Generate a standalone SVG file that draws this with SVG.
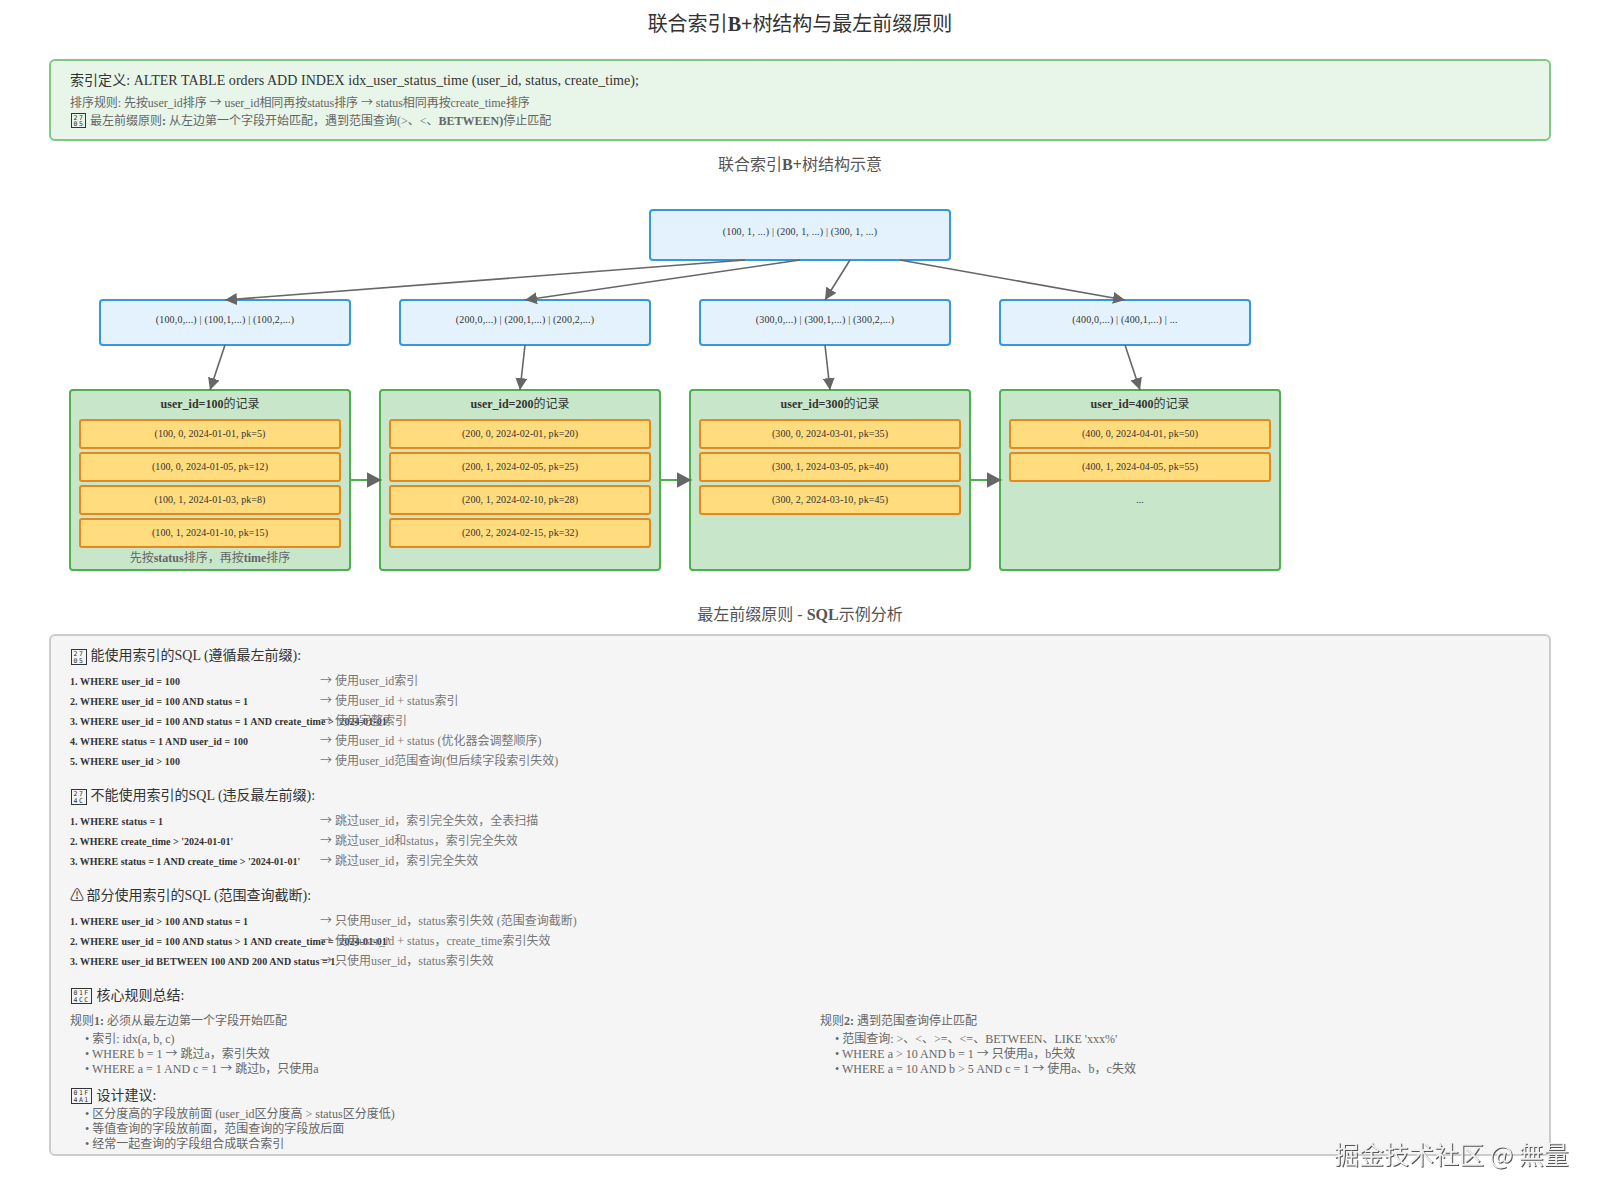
<svg xmlns="http://www.w3.org/2000/svg" width="1600" height="1200" viewBox="0 0 1600 1200">
<style>
text{font-family:"Liberation Serif","Noto Sans CJK SC",serif;fill:#333}
.b{font-weight:700}
.c{text-anchor:middle}
.t{font-size:20px}
.s{font-size:16px;fill:#555}
.h{font-size:14px}
.g{font-size:12px;fill:#666}
.n{font-size:10px;letter-spacing:.18px}
.m{font-size:10px;letter-spacing:.08px}
.r{font-size:10px;font-weight:700;letter-spacing:.09px}
.r0{letter-spacing:0}
.d{font-size:12px;fill:#777}
.ct{font-size:12px}
.ar{font-family:"Noto Sans CJK SC",sans-serif}
.idx{fill:#e3f2fd;stroke:#3498db;stroke-width:2}
.box{fill:#c8e6c9;stroke:#4caf50;stroke-width:2}
.rec{fill:#ffdc7d;stroke:#e6891c;stroke-width:2}
.e{stroke:#666;stroke-width:1.6;fill:none;marker-end:url(#a)}
.l{stroke:#4caf50;stroke-width:2;fill:none;marker-end:url(#a2)}
.wm{font-family:"Noto Sans CJK SC","Liberation Sans",sans-serif;font-size:25px;fill:#f0f0f0;filter:drop-shadow(1px 1px 0 #555)}
.tf{fill:none;stroke:#333;stroke-width:1}
.hx{font-family:"DejaVu Sans Mono","Liberation Mono",monospace;font-size:6.5px;letter-spacing:1.5px;fill:#333}
</style>
<defs>
<marker id="a" markerUnits="userSpaceOnUse" markerWidth="12" markerHeight="12" refX="12" refY="6" orient="auto"><path d="M0 0L12 6L0 12Z" fill="#666"/></marker>
<marker id="a2" markerUnits="userSpaceOnUse" markerWidth="16" markerHeight="16" refX="15" refY="8" orient="auto"><path d="M0 0L15 8L0 16Z" fill="#666"/></marker>
</defs>
<rect width="1600" height="1200" fill="#fff"/>
<text class="t c" x="800" y="31">联合索引<tspan class="b">B+</tspan>树结构与最左前缀原则</text>

<g id="info">
<rect x="50" y="60" width="1500" height="80" rx="5" fill="#e8f5e9" stroke="#81c784" stroke-width="2"/>
<text class="h" x="70" y="85" letter-spacing=".05">索引定义: ALTER TABLE orders ADD INDEX idx_user_status_time (user_id, status, create_time);</text>
<text class="g" x="70" y="107" letter-spacing="-.06">排序规则: 先按user_id排序 <tspan class="ar">→</tspan> user_id相同再按status排序 <tspan class="ar">→</tspan> status相同再按create_time排序</text>
<rect class="tf" x="71.5" y="113.5" width="14" height="14"/>
<text class="hx" x="73.5" y="119.5">27</text><text class="hx" x="73.5" y="126">05</text>
<text class="g" x="90" y="125">最左前缀原则<tspan class="b">:</tspan> 从左边第一个字段开始匹配，遇到范围查询(&gt;、&lt;、<tspan class="b">BETWEEN)</tspan>停止匹配</text>
</g>
<text class="s c" x="800" y="170">联合索引<tspan class="b">B+</tspan>树结构示意</text>

<g id="root"><rect class="idx" x="650" y="210" width="300" height="50" rx="3"/><text class="n c" x="800" y="235">(100, 1, ...) | (200, 1, ...) | (300, 1, ...)</text></g>
<g id="mid1"><rect class="idx" x="100" y="300" width="250" height="45" rx="3"/><text class="n c" x="225" y="323">(100,0,...) | (100,1,...) | (100,2,...)</text></g>
<g id="mid2"><rect class="idx" x="400" y="300" width="250" height="45" rx="3"/><text class="n c" x="525" y="323">(200,0,...) | (200,1,...) | (200,2,...)</text></g>
<g id="mid3"><rect class="idx" x="700" y="300" width="250" height="45" rx="3"/><text class="n c" x="825" y="323">(300,0,...) | (300,1,...) | (300,2,...)</text></g>
<g id="mid4"><rect class="idx" x="1000" y="300" width="250" height="45" rx="3"/><text class="n c" x="1125" y="323">(400,0,...) | (400,1,...) | ...</text></g>

<g id="leaf1"><rect class="box" x="70" y="390" width="280" height="180" rx="3"/>
<text class="ct c" x="210" y="408"><tspan class="b">user_id=100</tspan>的记录</text>
<rect class="rec" x="80" y="420" width="260" height="28" rx="2"/><text class="m c" x="210" y="437">(100, 0, 2024-01-01, pk=5)</text>
<rect class="rec" x="80" y="453" width="260" height="28" rx="2"/><text class="m c" x="210" y="470">(100, 0, 2024-01-05, pk=12)</text>
<rect class="rec" x="80" y="486" width="260" height="28" rx="2"/><text class="m c" x="210" y="503">(100, 1, 2024-01-03, pk=8)</text>
<rect class="rec" x="80" y="519" width="260" height="28" rx="2"/><text class="m c" x="210" y="536">(100, 1, 2024-01-10, pk=15)</text>
<text class="g c" x="210" y="562">先按<tspan class="b">status</tspan>排序，再按<tspan class="b">time</tspan>排序</text></g>
<g id="leaf2"><rect class="box" x="380" y="390" width="280" height="180" rx="3"/>
<text class="ct c" x="520" y="408"><tspan class="b">user_id=200</tspan>的记录</text>
<rect class="rec" x="390" y="420" width="260" height="28" rx="2"/><text class="m c" x="520" y="437">(200, 0, 2024-02-01, pk=20)</text>
<rect class="rec" x="390" y="453" width="260" height="28" rx="2"/><text class="m c" x="520" y="470">(200, 1, 2024-02-05, pk=25)</text>
<rect class="rec" x="390" y="486" width="260" height="28" rx="2"/><text class="m c" x="520" y="503">(200, 1, 2024-02-10, pk=28)</text>
<rect class="rec" x="390" y="519" width="260" height="28" rx="2"/><text class="m c" x="520" y="536">(200, 2, 2024-02-15, pk=32)</text></g>
<g id="leaf3"><rect class="box" x="690" y="390" width="280" height="180" rx="3"/>
<text class="ct c" x="830" y="408"><tspan class="b">user_id=300</tspan>的记录</text>
<rect class="rec" x="700" y="420" width="260" height="28" rx="2"/><text class="m c" x="830" y="437">(300, 0, 2024-03-01, pk=35)</text>
<rect class="rec" x="700" y="453" width="260" height="28" rx="2"/><text class="m c" x="830" y="470">(300, 1, 2024-03-05, pk=40)</text>
<rect class="rec" x="700" y="486" width="260" height="28" rx="2"/><text class="m c" x="830" y="503">(300, 2, 2024-03-10, pk=45)</text></g>
<g id="leaf4"><rect class="box" x="1000" y="390" width="280" height="180" rx="3"/>
<text class="ct c" x="1140" y="408"><tspan class="b">user_id=400</tspan>的记录</text>
<rect class="rec" x="1010" y="420" width="260" height="28" rx="2"/><text class="m c" x="1140" y="437">(400, 0, 2024-04-01, pk=50)</text>
<rect class="rec" x="1010" y="453" width="260" height="28" rx="2"/><text class="m c" x="1140" y="470">(400, 1, 2024-04-05, pk=55)</text>
<text class="m c" x="1140" y="503">...</text></g>

<g id="connectors">
<path class="e" d="M745 260L225 300"/>
<path class="e" d="M800 260L525 300"/>
<path class="e" d="M850 260L825 300"/>
<path class="e" d="M900 260L1125 300"/>
<path class="e" d="M225 345L210 390"/>
<path class="e" d="M525 345L520 390"/>
<path class="e" d="M825 345L830 390"/>
<path class="e" d="M1125 345L1140 390"/>
<path class="l" d="M350 480L381.5 480"/>
<path class="l" d="M660 480L691.5 480"/>
<path class="l" d="M970 480L1001.5 480"/>
</g>

<text class="s c" x="800" y="620">最左前缀原则 - <tspan class="b">SQL</tspan>示例分析</text>

<g id="sql">
<rect x="50" y="635" width="1500" height="520" rx="5" fill="#f5f5f5" stroke="#ccc" stroke-width="2"/>
<rect class="tf" x="71.5" y="649.5" width="15" height="15"/>
<text class="hx" x="73.5" y="656">27</text><text class="hx" x="73.5" y="663">05</text>
<text class="h" x="90.5" y="660">能使用索引的SQL (遵循最左前缀):</text>
<text class="r" x="70" y="685">1. WHERE user_id = 100</text><text class="d" x="320" y="685"><tspan class="ar">→</tspan> 使用user_id索引</text>
<text class="r" x="70" y="705">2. WHERE user_id = 100 AND status = 1</text><text class="d" x="320" y="705"><tspan class="ar">→</tspan> 使用user_id + status索引</text>
<text class="r" x="70" y="725">3. WHERE user_id = 100 AND status = 1 AND create_time &gt; '2024-01-01'</text><text class="d" x="320" y="725"><tspan class="ar">→</tspan> 使用完整索引</text>
<text class="r" x="70" y="745">4. WHERE status = 1 AND user_id = 100</text><text class="d" x="320" y="745"><tspan class="ar">→</tspan> 使用user_id + status (优化器会调整顺序)</text>
<text class="r" x="70" y="765">5. WHERE user_id &gt; 100</text><text class="d" x="320" y="765"><tspan class="ar">→</tspan> 使用user_id范围查询(但后续字段索引失效)</text>

<rect class="tf" x="71.5" y="789.5" width="15" height="15"/>
<text class="hx" x="73.5" y="796">27</text><text class="hx" x="73.5" y="803">4C</text>
<text class="h" x="90.5" y="800">不能使用索引的SQL (违反最左前缀):</text>
<text class="r" x="70" y="825">1. WHERE status = 1</text><text class="d" x="320" y="825"><tspan class="ar">→</tspan> 跳过user_id，索引完全失效，全表扫描</text>
<text class="r r0" x="70" y="845">2. WHERE create_time &gt; '2024-01-01'</text><text class="d" x="320" y="845"><tspan class="ar">→</tspan> 跳过user_id和status，索引完全失效</text>
<text class="r r0" x="70" y="865">3. WHERE status = 1 AND create_time &gt; '2024-01-01'</text><text class="d" x="320" y="865"><tspan class="ar">→</tspan> 跳过user_id，索引完全失效</text>

<text class="h" x="70" y="900">⚠ <tspan dx="-1">部分使用索引的SQL (范围查询截断):</tspan></text>
<text class="r" x="70" y="925">1. WHERE user_id &gt; 100 AND status = 1</text><text class="d" x="320" y="925"><tspan class="ar">→</tspan> 只使用user_id，status索引失效 (范围查询截断)</text>
<text class="r" x="70" y="945">2. WHERE user_id = 100 AND status &gt; 1 AND create_time = '2024-01-01'</text><text class="d" x="320" y="945"><tspan class="ar">→</tspan> 使用user_id + status，create_time索引失效</text>
<text class="r" x="70" y="965">3. WHERE user_id BETWEEN 100 AND 200 AND status = 1</text><text class="d" x="320" y="965"><tspan class="ar">→</tspan> 只使用user_id，status索引失效</text>

<rect class="tf" x="71.5" y="988.5" width="20" height="15"/>
<text class="hx" x="73.5" y="995">01F</text><text class="hx" x="73.5" y="1002">4CC</text>
<text class="h" x="96.5" y="1000">核心规则总结:</text>
<text class="g" x="70" y="1025">规则<tspan class="b">1:</tspan> 必须从最左边第一个字段开始匹配</text>
<text class="g" x="85" y="1043">• 索引: idx(a, b, c)</text>
<text class="g" x="85" y="1058">• WHERE b = 1 <tspan class="ar">→</tspan> 跳过a，索引失效</text>
<text class="g" x="85" y="1073">• WHERE a = 1 AND c = 1 <tspan class="ar">→</tspan> 跳过b，只使用a</text>
<text class="g" x="820" y="1025">规则<tspan class="b">2:</tspan> 遇到范围查询停止匹配</text>
<text class="g" x="835" y="1043">• 范围查询: &gt;、&lt;、&gt;=、&lt;=、BETWEEN、LIKE 'xxx%'</text>
<text class="g" x="835" y="1058">• WHERE a &gt; 10 AND b = 1 <tspan class="ar">→</tspan> 只使用a，b失效</text>
<text class="g" x="835" y="1073">• WHERE a = 10 AND b &gt; 5 AND c = 1 <tspan class="ar">→</tspan> 使用a、b，c失效</text>

<rect class="tf" x="71.5" y="1088.5" width="20" height="15"/>
<text class="hx" x="73.5" y="1095">01F</text><text class="hx" x="73.5" y="1102">4A1</text>
<text class="h" x="96.5" y="1100">设计建议:</text>
<text class="g" x="85" y="1118">• 区分度高的字段放前面 (user_id区分度高 &gt; status区分度低)</text>
<text class="g" x="85" y="1133">• 等值查询的字段放前面，范围查询的字段放后面</text>
<text class="g" x="85" y="1148">• 经常一起查询的字段组合成联合索引</text>
</g>
<text class="wm" x="1334" y="1164">掘金技术社区 @ 無量</text>
</svg>
